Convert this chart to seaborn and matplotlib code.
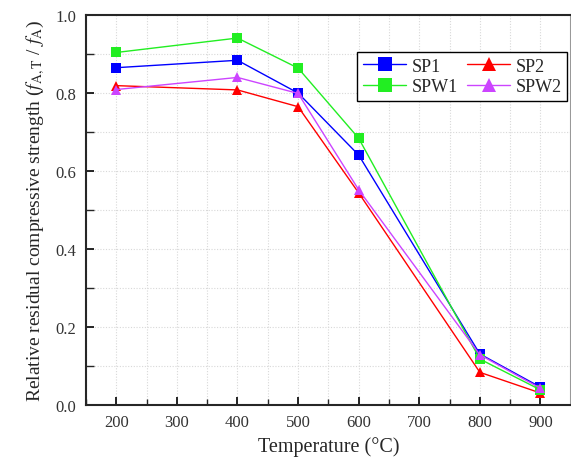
import matplotlib
matplotlib.use("Agg")
import matplotlib.pyplot as plt
import seaborn as sns
import pandas as pd
from matplotlib.ticker import MultipleLocator, FormatStrFormatter

temperature = [200, 400, 500, 600, 800, 900]
sp1 = [0.864, 0.883, 0.799, 0.640, 0.130, 0.045]
sp2 = [0.818, 0.807, 0.764, 0.543, 0.083, 0.030]
spw1 = [0.903, 0.940, 0.863, 0.683, 0.117, 0.038]
spw2 = [0.808, 0.839, 0.798, 0.551, 0.128, 0.042]
series_names = ["SP1", "SP2", "SPW1", "SPW2"]
colors = {"SP1": "#0000FF", "SP2": "#FF0000", "SPW1": "#22EE22", "SPW2": "#CC44FF"}
markers = {"SP1": "s", "SP2": "^", "SPW1": "s", "SPW2": "^"}

rows = []
for name, vals in zip(series_names, [sp1, sp2, spw1, spw2]):
    for t, v in zip(temperature, vals):
        rows.append({"Temperature": t, "value": v, "series": name})
df = pd.DataFrame(rows)

sns.set_style("ticks")
plt.rcParams["font.family"] = ["Liberation Serif", "DejaVu Serif"]
plt.rcParams["mathtext.fontset"] = "stix"

fig = plt.figure(figsize=(5.71, 4.60), dpi=100)
ax = fig.add_axes([0.1506, 0.118, 0.849, 0.848])

sns.lineplot(data=df, x="Temperature", y="value", hue="series", style="series",
             hue_order=series_names, style_order=series_names,
             palette=colors, markers=markers, dashes=False, linewidth=1.0,
             markersize=7.5, markeredgewidth=0, ax=ax)

ax.set_xlim(150, 950)
ax.set_ylim(0, 1.0)
ax.xaxis.set_major_locator(MultipleLocator(100))
ax.xaxis.set_minor_locator(MultipleLocator(50))
ax.yaxis.set_major_locator(MultipleLocator(0.2))
ax.yaxis.set_minor_locator(MultipleLocator(0.1))
ax.set_xticks([200, 300, 400, 500, 600, 700, 800, 900])
ax.yaxis.set_major_formatter(FormatStrFormatter("%.1f"))

ax.grid(True, which="both", color="#d8d8d8", linestyle=(0, (1, 1.5)), linewidth=0.8)
ax.set_axisbelow(True)
ax.tick_params(which="major", direction="in", length=6, width=1.2, labelsize=12,
               colors="black", labelcolor="#333333", pad=7)
ax.tick_params(which="minor", direction="in", length=4, width=1.0)
ax.tick_params(axis="y", which="minor", length=6)
for side in ["left", "bottom", "top"]:
    ax.spines[side].set_linewidth(1.5)
ax.spines["right"].set_linewidth(1.5)
ax.spines["right"].set_color("#999999")

ax.set_xlabel("Temperature (°C)", fontsize=14.5, labelpad=4)
ax.set_ylabel(r"Relative residual compressive strength ($f_{\mathrm{A,T}}$ / $f_{\mathrm{A}}$)",
              fontsize=14, labelpad=6)

handles, labels = ax.get_legend_handles_labels()
hmap = dict(zip(labels, handles))
order = ["SP1", "SPW1", "SP2", "SPW2"]
leg = ax.legend([hmap[k] for k in order], order, loc="upper left",
                bbox_to_anchor=(0.56, 0.904), ncol=2, fontsize=13,
                frameon=True, fancybox=False, edgecolor="black", framealpha=1,
                handlelength=2.4, columnspacing=0.5, handletextpad=0.3,
                borderpad=0.3, labelspacing=0.2, borderaxespad=0, markerscale=1.4)
leg.get_frame().set_linewidth(1.0)

fig.savefig("out.png", dpi=100)
